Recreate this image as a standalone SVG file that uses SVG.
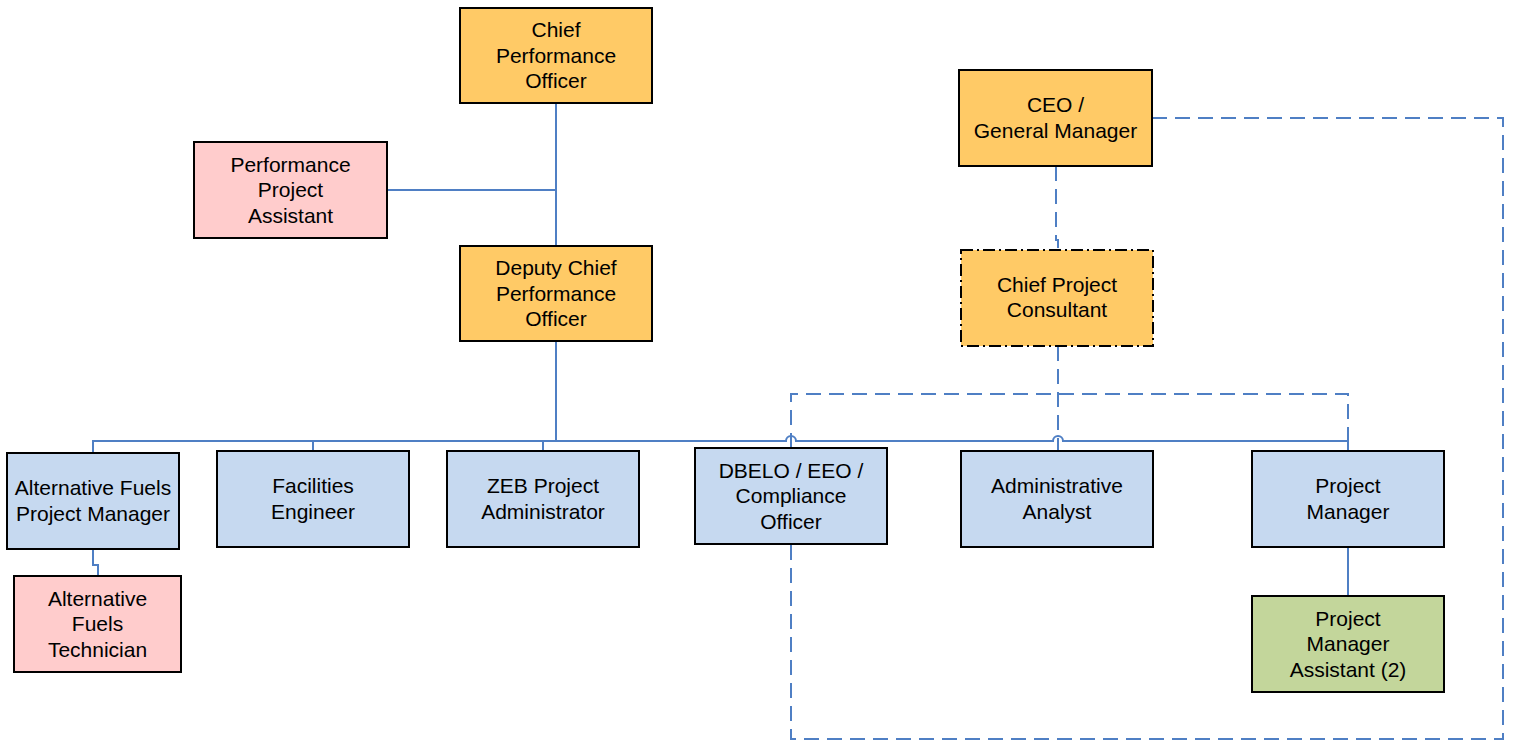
<svg xmlns="http://www.w3.org/2000/svg" width="1518" height="743" viewBox="0 0 1518 743">
  <style>
    .box { stroke: #000; stroke-width: 2; }
    .gold { fill: #FFCA66; }
    .pink { fill: #FFCCCC; }
    .blue { fill: #C6D9F0; }
    .green { fill: #C3D69B; }
    .dashdot { stroke-dasharray: 12 4 2 4; }
    text { font-family: "Liberation Sans", Arial, sans-serif; font-size: 21px; fill: #000; text-anchor: middle; }
    .solid { fill: none; stroke: #4F7FC4; stroke-width: 2; }
    .dashed { fill: none; stroke: #4F7FC4; stroke-width: 2; stroke-dasharray: 15 8; }
  </style>

  <!-- connectors -->
  <g id="connectors">
    <!-- solid reporting lines -->
    <path class="solid" d="M556 103 V246"/>
    <path class="solid" d="M387 190 H556"/>
    <path class="solid" d="M556 341 V441"/>
    <path class="solid" d="M93 453 V441 H786 A5 5 0 0 1 796 441 H1053 A5 5 0 0 1 1063 441 H1348 V451"/>
    <path class="solid" d="M313 441 V451"/>
    <path class="solid" d="M543 441 V451"/>
    <path class="solid" d="M93 549 V565 H98 V576"/>
    <path class="solid" d="M1348 547 V596"/>
    <!-- dashed (indirect) lines -->
    <path class="dashed" d="M1056 166 V240 H1058 V250"/>
    <path class="dashed" d="M1058 346 V451"/>
    <path class="dashed" d="M791 448 V394 H1348 V451"/>
    <path class="dashed" d="M1152 118 H1503 V739 H791 V544"/>
  </g>

  <g id="chief-performance-officer">
    <rect class="box gold" x="460" y="8" width="192" height="95"/>
    <text x="556" y="37">Chief</text>
    <text x="556" y="63">Performance</text>
    <text x="556" y="88">Officer</text>
  </g>

  <g id="performance-project-assistant">
    <rect class="box pink" x="194" y="142" width="193" height="96"/>
    <text x="290.5" y="172">Performance</text>
    <text x="290.5" y="197">Project</text>
    <text x="290.5" y="223">Assistant</text>
  </g>

  <g id="deputy-chief-performance-officer">
    <rect class="box gold" x="460" y="246" width="192" height="95"/>
    <text x="556" y="275">Deputy Chief</text>
    <text x="556" y="301">Performance</text>
    <text x="556" y="326">Officer</text>
  </g>

  <g id="ceo-general-manager">
    <rect class="box gold" x="959" y="70" width="193" height="96"/>
    <text x="1055.5" y="112">CEO /</text>
    <text x="1055.5" y="138">General Manager</text>
  </g>

  <g id="chief-project-consultant">
    <rect class="box gold dashdot" x="961" y="250" width="192" height="96"/>
    <text x="1057" y="292">Chief Project</text>
    <text x="1057" y="317">Consultant</text>
  </g>

  <g id="alternative-fuels-project-manager">
    <rect class="box blue" x="7" y="453" width="172" height="96"/>
    <text x="93" y="495">Alternative Fuels</text>
    <text x="93" y="521">Project Manager</text>
  </g>

  <g id="facilities-engineer">
    <rect class="box blue" x="217" y="451" width="192" height="96"/>
    <text x="313" y="493">Facilities</text>
    <text x="313" y="519">Engineer</text>
  </g>

  <g id="zeb-project-administrator">
    <rect class="box blue" x="447" y="451" width="192" height="96"/>
    <text x="543" y="493">ZEB Project</text>
    <text x="543" y="519">Administrator</text>
  </g>

  <g id="dbelo-eeo-compliance-officer">
    <rect class="box blue" x="695" y="448" width="192" height="96"/>
    <text x="791" y="478">DBELO / EEO /</text>
    <text x="791" y="503">Compliance</text>
    <text x="791" y="529">Officer</text>
  </g>

  <g id="administrative-analyst">
    <rect class="box blue" x="961" y="451" width="192" height="96"/>
    <text x="1057" y="493">Administrative</text>
    <text x="1057" y="519">Analyst</text>
  </g>

  <g id="project-manager">
    <rect class="box blue" x="1252" y="451" width="192" height="96"/>
    <text x="1348" y="493">Project</text>
    <text x="1348" y="519">Manager</text>
  </g>

  <g id="alternative-fuels-technician">
    <rect class="box pink" x="14" y="576" width="167" height="96"/>
    <text x="97.5" y="606">Alternative</text>
    <text x="97.5" y="631">Fuels</text>
    <text x="97.5" y="657">Technician</text>
  </g>

  <g id="project-manager-assistant">
    <rect class="box green" x="1252" y="596" width="192" height="96"/>
    <text x="1348" y="626">Project</text>
    <text x="1348" y="651">Manager</text>
    <text x="1348" y="677">Assistant (2)</text>
  </g>
</svg>
